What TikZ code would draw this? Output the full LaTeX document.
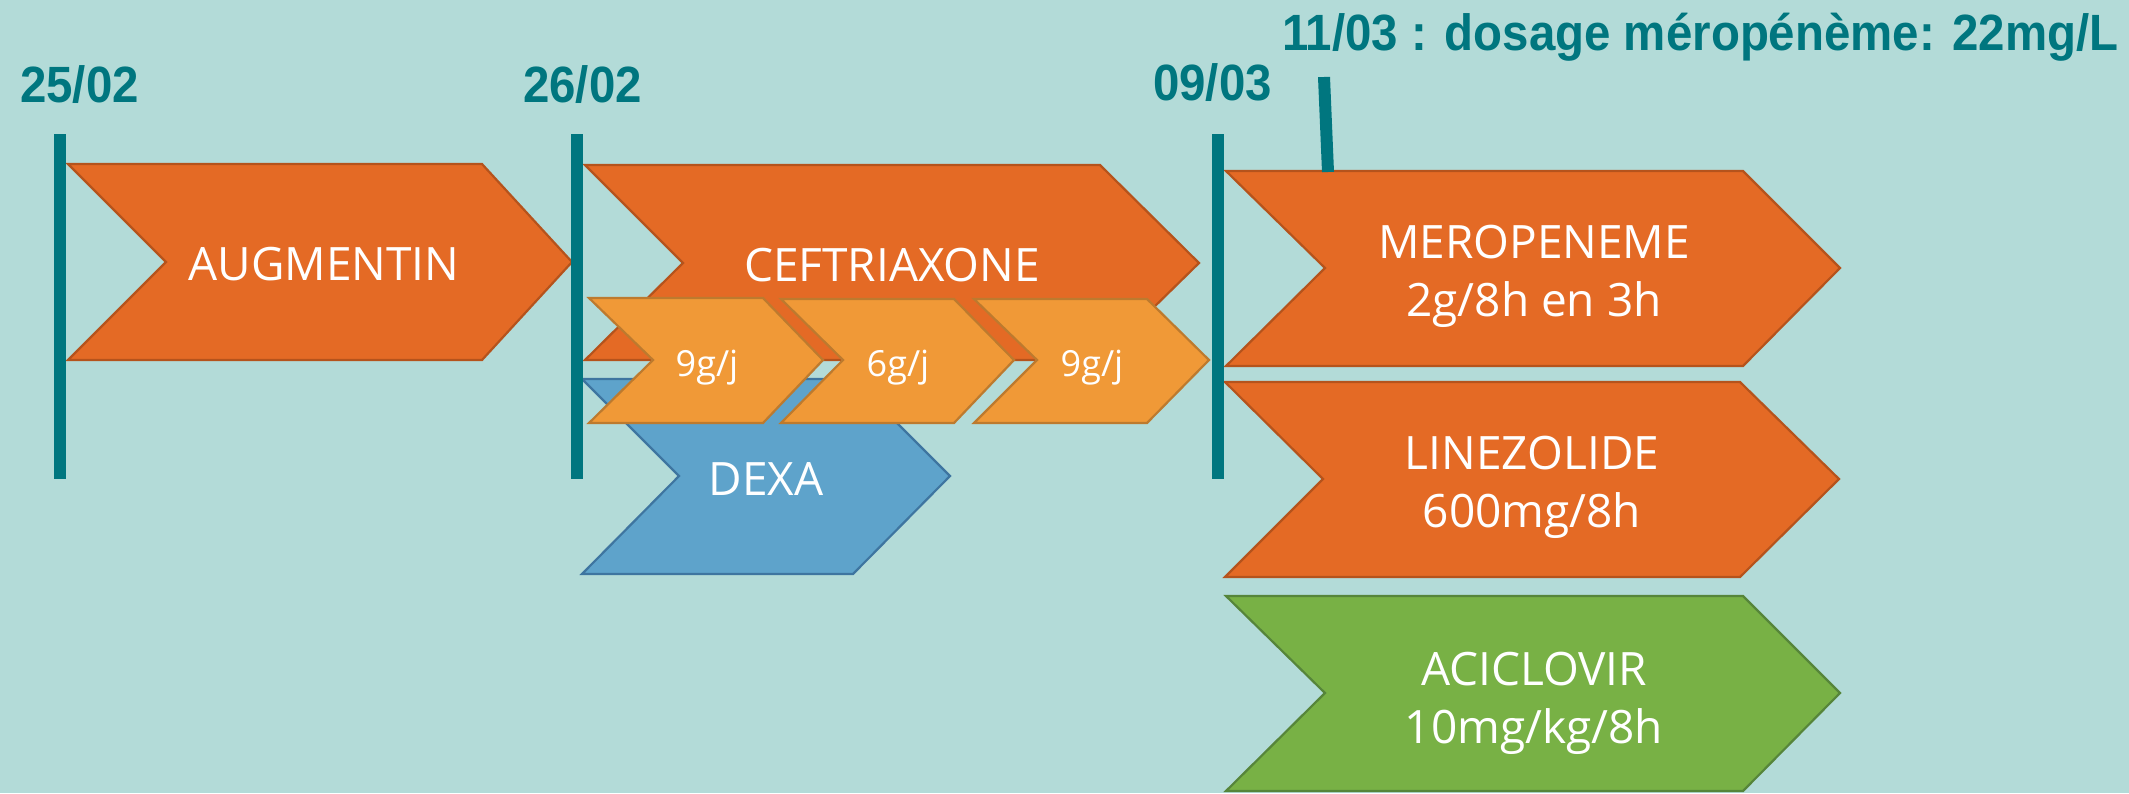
\documentclass[tikz,border=0pt]{standalone}
\usepackage{fontspec}
\newfontfamily\chevfont{Open Sans}
\newfontfamily\datefont[FakeStretch=0.93]{Liberation Sans Bold}
\definecolor{bgc}{HTML}{B3DBD8}
\definecolor{tealc}{HTML}{00767F}
\definecolor{orA}{HTML}{E46A25}
\definecolor{orB}{HTML}{B5531C}
\definecolor{loA}{HTML}{F09937}
\definecolor{loB}{HTML}{BD7A2E}
\definecolor{blA}{HTML}{5EA3CB}
\definecolor{blB}{HTML}{3E75A0}
\definecolor{grA}{HTML}{78B145}
\definecolor{grB}{HTML}{56853A}
\tikzset{
  chevO/.style={fill=orA, draw=orB, line width=2.2pt, line join=miter},
  chevL/.style={fill=loA, draw=loB, line width=2.2pt, line join=miter},
  chevB/.style={fill=blA, draw=blB, line width=2.2pt, line join=miter},
  chevG/.style={fill=grA, draw=grB, line width=2.2pt, line join=miter},
  bigtxt/.style={text=white, font=\chevfont\fontsize{46}{58}\selectfont, inner sep=0pt, align=center},
  smalltxt/.style={text=white, font=\chevfont\fontsize{36}{44}\selectfont, inner sep=0pt},
  datetxt/.style={text=tealc, font=\datefont\fontsize{51}{60}\selectfont, inner sep=0pt, anchor=base west},
  tline/.style={draw=tealc, line width=12pt}
}
\begin{document}
\begin{tikzpicture}[x=1pt,y=-1pt]
\useasboundingbox (0,0) rectangle (2129,793);
\fill[bgc] (0,0) rectangle (2129,793);
% chevrons
\path[chevO] (68,164) -- (482,164) -- (572,262) -- (482,360) -- (68,360) -- (166,262) -- cycle;
\path[chevO] (585,165) -- (1100,165) -- (1199,263) -- (1100,360) -- (585,360) -- (683,263) -- cycle;
\path[chevB] (582,379) -- (853,379) -- (950,476) -- (853,574) -- (582,574) -- (679,476) -- cycle;
\path[chevL] (589,298) -- (763,298) -- (823,360) -- (763,423) -- (589,423) -- (653,360) -- cycle;
\path[chevL] (781,299) -- (954,299) -- (1014,360) -- (954,423) -- (781,423) -- (843,360) -- cycle;
\path[chevL] (974,299) -- (1147,299) -- (1209,360) -- (1147,423) -- (974,423) -- (1037,360) -- cycle;
\path[chevO] (1226,171) -- (1743,171) -- (1840,268) -- (1743,366) -- (1226,366) -- (1325,268) -- cycle;
\path[chevO] (1225,382) -- (1740,382) -- (1839,479) -- (1740,577) -- (1225,577) -- (1323,479) -- cycle;
\path[chevG] (1226,596) -- (1743,596) -- (1840,693) -- (1743,791) -- (1226,791) -- (1325,693) -- cycle;
% time lines
\coordinate (l1t) at (60,134);   \coordinate (l1b) at (60,479);
\coordinate (l2t) at (577,134);  \coordinate (l2b) at (577,479);
\coordinate (l3t) at (1218,134); \coordinate (l3b) at (1218,479);
\coordinate (l4t) at (1324,77);  \coordinate (l4b) at (1328,172);
\draw[tline] (l1t) -- (l1b);
\draw[tline] (l2t) -- (l2b);
\draw[tline] (l3t) -- (l3b);
\draw[tline] (l4t) -- (l4b);
% dates
\node[datetxt] (d1) at (20,102) {25/02};
\node[datetxt] (d2) at (523,102) {26/02};
\node[datetxt] (d3) at (1153,100) {09/03};
\node[datetxt] (d4) at (1282,50) {11/03 : dosage méropénème: 22mg/L};
% chevron texts
\node[bigtxt, anchor=north] (aug) at (324,247) {AUGMENTIN};
\node[bigtxt, anchor=north] (cef) at (892,248) {CEFTRIAXONE};
\node[bigtxt, anchor=north] (dex) at (766,462) {DEXA};
\node[smalltxt, anchor=base] (s1) at (707,376) {9g/j};
\node[smalltxt, anchor=base] (s2) at (898,376) {6g/j};
\node[smalltxt, anchor=base] (s3) at (1092,376) {9g/j};
\node[bigtxt, anchor=north] (mer) at (1534,225) {MEROPENEME\\2g/8h en 3h};
\node[bigtxt, anchor=north] (lin) at (1532,436) {LINEZOLIDE\\600mg/8h};
\node[bigtxt, anchor=north] (aci) at (1534,652) {ACICLOVIR\\10mg/kg/8h};
\end{tikzpicture}
\end{document}
